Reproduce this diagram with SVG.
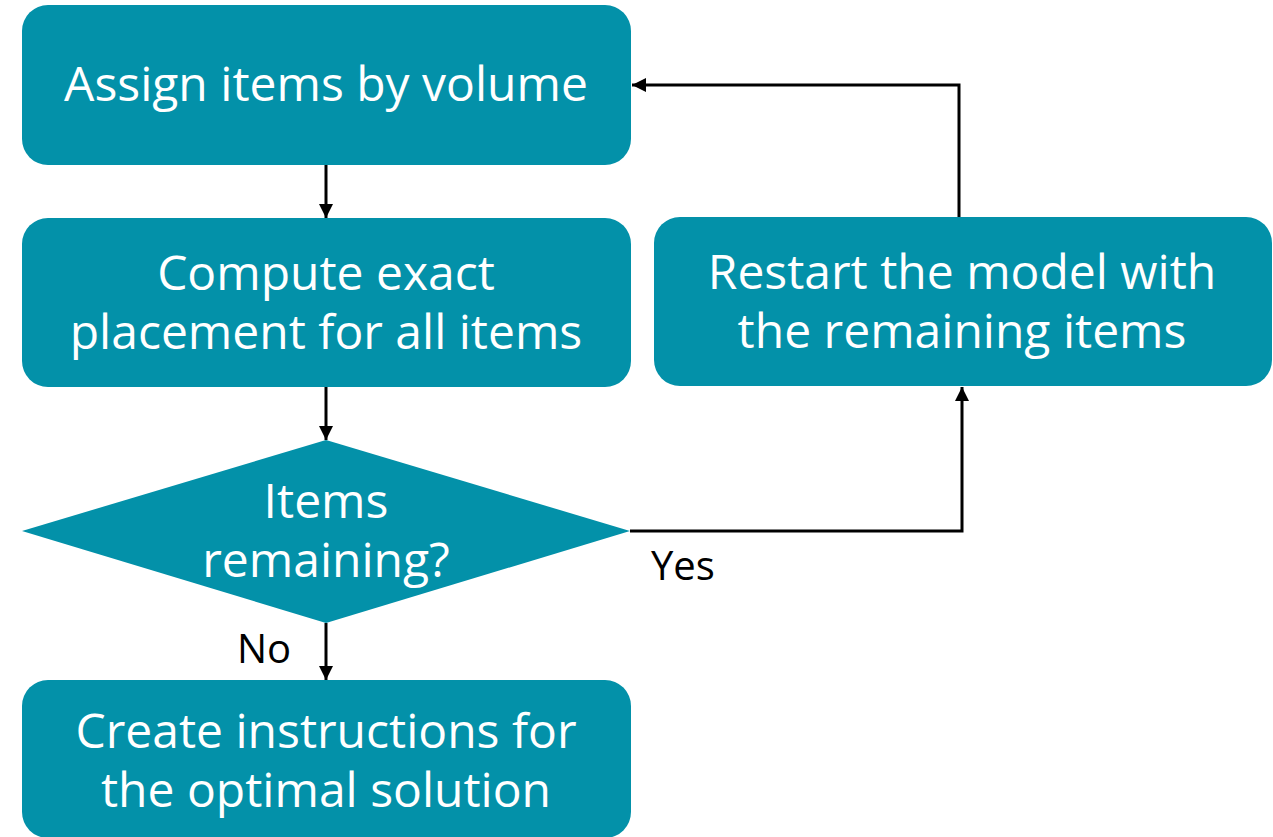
<svg xmlns="http://www.w3.org/2000/svg" width="1273" height="837" viewBox="0 0 1273 837">
  <style>
    .box { fill: #0391a9; }
    .label { font-family: "Open Sans", "Noto Sans", "Liberation Sans", sans-serif; font-size: 48px; fill: #ffffff; text-anchor: middle; }
    .edge { fill: none; stroke: #000000; stroke-width: 3; }
    .edge-label { font-family: "Open Sans", "Noto Sans", "Liberation Sans", sans-serif; font-size: 40px; fill: #000000; }
  </style>
  <defs>
    <marker id="arrow" viewBox="0 0 10 10" refX="10" refY="5" markerUnits="userSpaceOnUse" markerWidth="14" markerHeight="17" orient="auto">
      <path d="M0,0 L10,5 L0,10 Z" fill="#000000"/>
    </marker>
  </defs>
  <rect width="1273" height="837" fill="#ffffff"/>

  <g id="connectors">
    <line class="edge" x1="326" y1="165" x2="326" y2="218" marker-end="url(#arrow)"/>
    <line class="edge" x1="326" y1="387" x2="326" y2="440" marker-end="url(#arrow)"/>
    <line class="edge" x1="326" y1="623" x2="326" y2="680" marker-end="url(#arrow)"/>
    <polyline class="edge" points="630,531 962,531 962,387" marker-end="url(#arrow)"/>
    <polyline class="edge" points="959,218 959,85 632,85" marker-end="url(#arrow)"/>
    <text class="edge-label" x="651" y="580">Yes</text>
    <text class="edge-label" x="237" y="663">No</text>
  </g>

  <g id="assign">
    <rect class="box" x="22" y="5" width="609" height="160" rx="26"/>
    <text class="label" x="326" y="101">Assign items by volume</text>
  </g>

  <g id="compute">
    <rect class="box" x="22" y="218" width="609" height="169" rx="26"/>
    <text class="label" x="326" y="290">Compute exact<tspan x="326" dy="59">placement for all items</tspan></text>
  </g>

  <g id="decision">
    <polygon class="box" points="326,440 630,531 326,623 22,531"/>
    <text class="label" x="326" y="518">Items<tspan x="326" dy="59">remaining?</tspan></text>
  </g>

  <g id="restart">
    <rect class="box" x="654" y="217" width="618" height="169" rx="26"/>
    <text class="label" x="962" y="289">Restart the model with<tspan x="962" dy="59">the remaining items</tspan></text>
  </g>

  <g id="create">
    <rect class="box" x="22" y="680" width="609" height="158" rx="26"/>
    <text class="label" x="326" y="748">Create instructions for<tspan x="326" dy="59">the optimal solution</tspan></text>
  </g>
</svg>
